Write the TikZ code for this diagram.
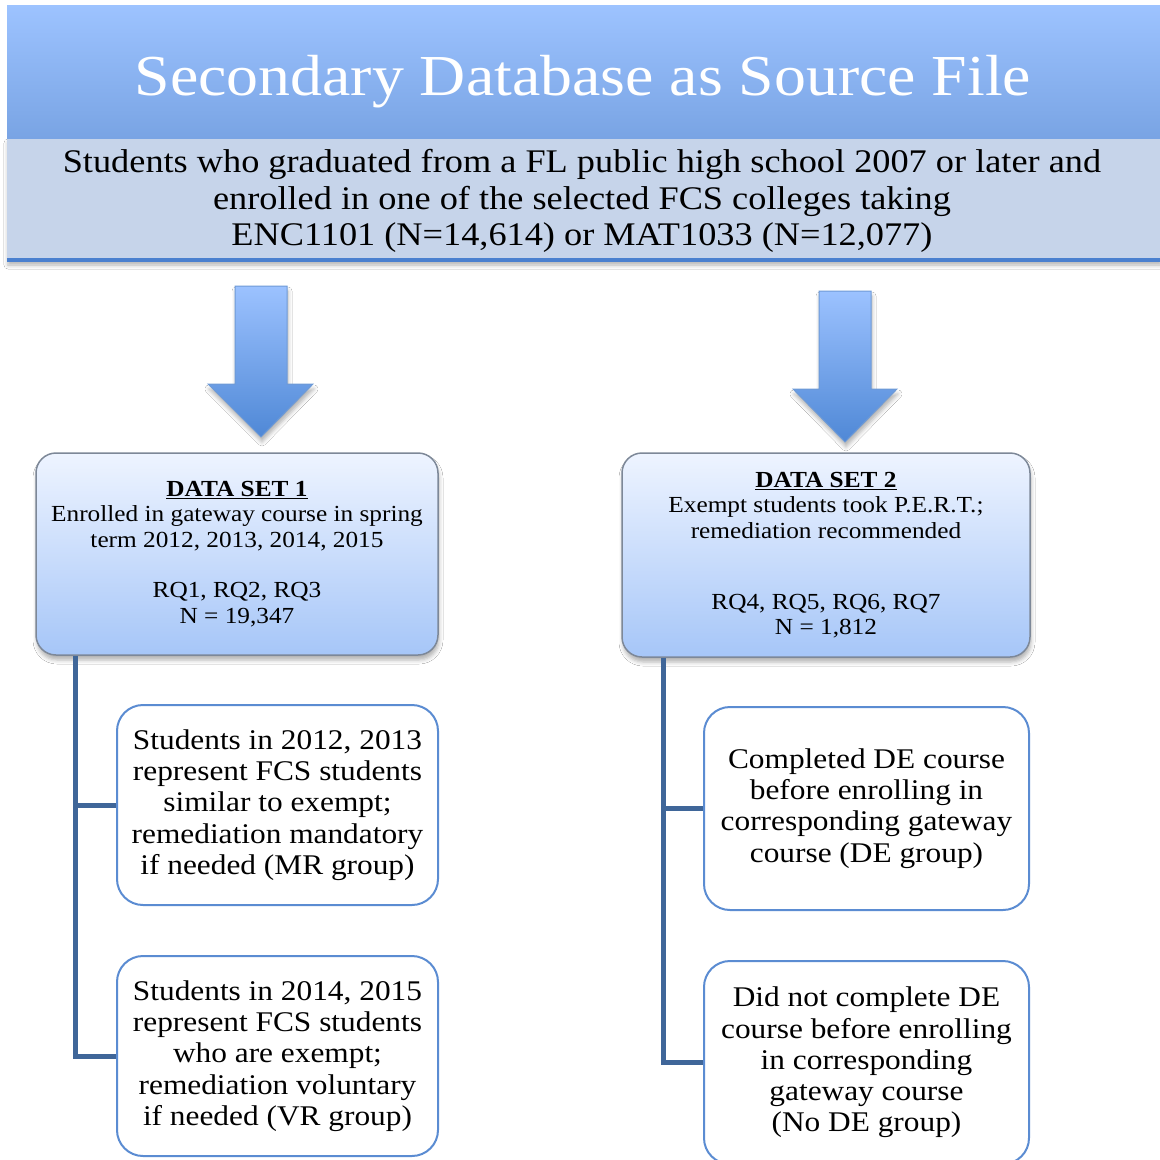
\documentclass[tikz,border=0pt]{standalone}
\usepackage{fontspec}
\setmainfont[FakeStretch=1.1]{Liberation Serif}
\usetikzlibrary{shadows.blur}

\definecolor{bannertop}{HTML}{9DC3FF}
\definecolor{bannerbot}{HTML}{79A4E4}
\definecolor{bandfill}{HTML}{C6D4EA}
\definecolor{bandline}{HTML}{4A80CF}
\definecolor{arrowtop}{HTML}{9CC2FF}
\definecolor{arrowbot}{HTML}{4F88D6}
\definecolor{arrowedge}{HTML}{6E9AD6}
\definecolor{dstop}{HTML}{EEF4FF}
\definecolor{dsbot}{HTML}{A6C6F8}
\definecolor{dsedge}{HTML}{7D8898}
\definecolor{treeline}{HTML}{3F6699}
\definecolor{leafedge}{HTML}{5B8CD2}

\tikzset{
  softshadow/.style={blur shadow={shadow xshift=1pt, shadow yshift=-5pt,
      shadow blur radius=4pt, shadow opacity=30}},
  banner/.style={rectangle, inner sep=0pt, minimum width=1153pt,
      minimum height=133pt, top color=bannertop, bottom color=bannerbot},
  bandbox/.style={rectangle, inner sep=0pt, minimum width=1153pt,
      minimum height=122pt, fill=bandfill, softshadow},
  blockarrow/.style={top color=arrowtop, bottom color=arrowbot,
      draw=arrowedge, line width=1pt, softshadow},
  dsbox/.style={rectangle, rounded corners=20pt, draw=dsedge, line width=1.5pt,
      top color=dstop, bottom color=dsbot, align=center, inner sep=0pt,
      font=\fontsize{23}{25.3}\selectfont, softshadow},
  leaf/.style={rectangle, rounded corners=26pt, draw=leafedge, line width=2pt,
      fill=white, align=center, inner sep=0pt,
      font=\fontsize{28.5}{31.2}\selectfont},
  tree/.style={draw=treeline, line width=5pt},
}

\begin{document}
\begin{tikzpicture}[x=1pt, y=-1pt]
  \fill[white] (0,0) rectangle (1160,1160);
  \useasboundingbox (0,0) rectangle (1160,1160);

  % header and population band
  \node[bandbox] (source) at (583.5,199) {};
  \node[banner] (header) at (583.5,71.5) {};
  \draw[bandline, line width=4pt] (source.south west) -- (source.south east);
  \node[text=white, anchor=base, font=\fontsize{58}{60}\selectfont]
    (title) at (583,95) {Secondary Database as Source File};
  \node[align=center, font=\fontsize{33}{36.5}\selectfont] (population) at (582,201)
    {Students who graduated from a FL public high school 2007 or later and\\
     enrolled in one of the selected FCS colleges taking\\
     ENC1101 (N=14,614) or MAT1033 (N=12,077)};

  % block arrows down to the two data sets
  \shade[blockarrow] (235,286) -- (287,286) -- (287,384) -- (313,384)
    -- (261,437) -- (208,384) -- (235,384) -- cycle;
  \shade[blockarrow] (819,291) -- (871,291) -- (871,389) -- (897,389)
    -- (845,442) -- (793,389) -- (819,389) -- cycle;

  % data sets
  \node[dsbox, minimum width=402pt, minimum height=202pt] (ds1) at (237,554)
    {\underline{\textbf{DATA SET 1}}\\
     Enrolled in gateway course in spring\\
     term 2012, 2013, 2014, 2015\\[25.3pt]
     RQ1, RQ2, RQ3\\
     N = 19,347};
  \node[dsbox, minimum width=408pt, minimum height=204pt] (ds2) at (826,555)
    {\underline{\textbf{DATA SET 2}}\\
     Exempt students took P.E.R.T.;\\
     remediation recommended\\[45.7pt]
     RQ4, RQ5, RQ6, RQ7\\
     N = 1,812};

  % groups
  \node[leaf, minimum width=321pt, minimum height=200pt] (mr) at (277.5,805)
    {Students in 2012, 2013\\represent FCS students\\similar to exempt;\\
     remediation mandatory\\if needed (MR group)};
  \node[leaf, minimum width=321pt, minimum height=200pt] (vr) at (277.5,1056)
    {Students in 2014, 2015\\represent FCS students\\who are exempt;\\
     remediation voluntary\\if needed (VR group)};
  \node[leaf, minimum width=325pt, minimum height=203pt] (de) at (866.5,808.5)
    {Completed DE course\\before enrolling in\\corresponding gateway\\course (DE group)};
  \node[leaf, minimum width=325pt, minimum height=203pt] (node) at (866.5,1062.5)
    {Did not complete DE\\course before enrolling\\in corresponding\\
     gateway course\\(No DE group)};

  % tree connectors
  \coordinate (t1) at ([xshift=40pt]ds1.south west);
  \coordinate (t2) at ([xshift=42pt]ds2.south west);
  \draw[tree] (t1) |- (mr.west);
  \draw[tree] (t1) |- (vr.west);
  \draw[tree] (t2) |- (de.west);
  \draw[tree] (t2) |- (node.west);
\end{tikzpicture}
\end{document}
